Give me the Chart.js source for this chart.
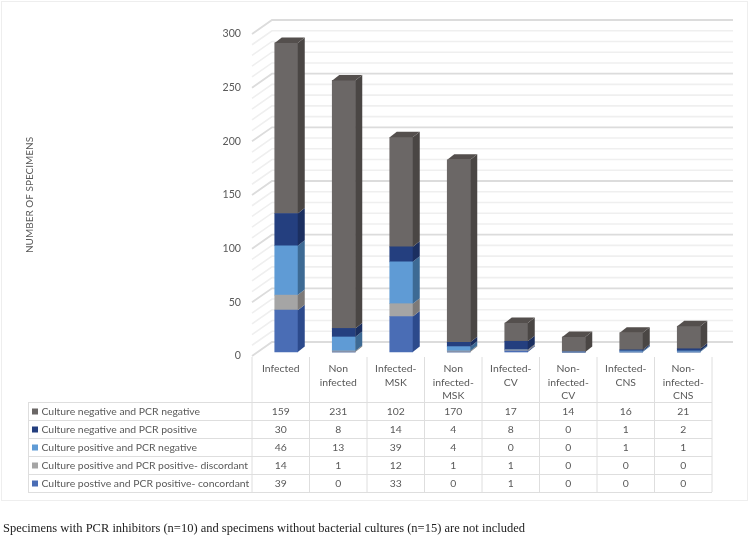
<!DOCTYPE html>
<html>
<head>
<meta charset="utf-8">
<style>
html, body { margin: 0; padding: 0; background: #fff; }
canvas { display: block; }
</style>
<script src="https://cdn.jsdelivr.net/npm/chart.js@4/dist/chart.umd.js"></script>
</head>
<body>
<canvas id="chart" width="755" height="539"></canvas>
<script>
const categories = [
	'Infected', ['Non', 'infected'], ['Infected-', 'MSK'], ['Non', 'infected-', 'MSK'],
	['Infected-', 'CV'], ['Non-', 'infected-', 'CV'], ['Infected-', 'CNS'], ['Non-', 'infected-', 'CNS']
]
const concordant = [39, 0, 33, 0, 1, 0, 0, 0]
const discordant = [14, 1, 12, 1, 1, 0, 0, 0]
const cultPosPcrNeg = [46, 13, 39, 4, 0, 0, 1, 1]
const cultNegPcrPos = [30, 8, 14, 4, 8, 0, 1, 2]
const cultNegPcrNeg = [159, 231, 102, 170, 17, 14, 16, 21]

const seriesNames = [
	'Culture postive and PCR positive- concordant',
	'Culture positive and PCR positive- discordant',
	'Culture positive and PCR negative',
	'Culture negative and PCR positive',
	'Culture negative and PCR negative'
]
const seriesValues = [concordant, discordant, cultPosPcrNeg, cultNegPcrPos, cultNegPcrNeg]
const frontColors = ['#4a6db5', '#a5a5a5', '#5f9bd5', '#243f7f', '#6b6766']
const sideColors = ['#2c4a8c', '#7d7a78', '#3d6a94', '#1b2f60', '#4a4644']
const footnote = 'Specimens with PCR inhibitors (n=10) and specimens without bacterial cultures (n=15) are not included'

const TEXT = '#595959'
const LINE = '#dedede'
const BAR_DX = 5.5, BAR_DY = -4      // bars stand a little inside the floor
const SIDE_DX = 7, SIDE_DY = -5.5
const WALL_DX = 20, WALL_DY = -14
const WALL_RIGHT = 733

// back wall, left wall and floor lines of the fake 3d box
const wallPlugin = {
	id: 'wall',
	beforeDatasetsDraw(chart) {
		const { ctx } = chart
		const y = chart.scales.y
		const x0 = y.right
		ctx.save()
		y.ticks.forEach(t => {
			const py = y.getPixelForValue(t.value)
			const major = t.value % 50 === 0
			ctx.strokeStyle = major ? '#dcdcdc' : '#efefef'
			ctx.lineWidth = major ? 1.8 : 1.6
			ctx.beginPath()
			ctx.moveTo(x0, py)
			ctx.lineTo(x0 + WALL_DX, py + WALL_DY)
			ctx.lineTo(WALL_RIGHT, py + WALL_DY)
			ctx.stroke()
		})
		ctx.restore()
		// shift the bars for the rest of the datasets pass
		ctx.save()
		ctx.translate(BAR_DX, BAR_DY)
	},
	afterDatasetsDraw(chart) {
		const { ctx } = chart
		const n = categories.length
		for (let d = 0; d < seriesValues.length; d++) {
			const bars = chart.getDatasetMeta(d).data
			for (let i = 0; i < n; i++) {
				if (!seriesValues[d][i]) continue
				const b = bars[i]
				const r = b.x + b.width / 2, l = b.x - b.width / 2
				ctx.fillStyle = sideColors[d]
				ctx.beginPath()
				ctx.moveTo(r, b.y)
				ctx.lineTo(r + SIDE_DX, b.y + SIDE_DY)
				ctx.lineTo(r + SIDE_DX, b.base + SIDE_DY)
				ctx.lineTo(r, b.base)
				ctx.closePath()
				ctx.fill()
				// only the last non zero segment shows its top
				if (seriesValues.slice(d + 1).every(s => !s[i])) {
					ctx.fillStyle = '#544f4d'
					ctx.beginPath()
					ctx.moveTo(l, b.y)
					ctx.lineTo(l + SIDE_DX, b.y + SIDE_DY)
					ctx.lineTo(r + SIDE_DX, b.y + SIDE_DY)
					ctx.lineTo(r, b.y)
					ctx.closePath()
					ctx.fill()
				}
			}
		}
		ctx.restore()
	}
}

// data table under the x axis, columns follow the category scale
const tablePlugin = {
	id: 'table',
	afterDraw(chart) {
		const { ctx } = chart
		const x = chart.scales.x
		const colW = x.getPixelForValue(1) - x.getPixelForValue(0)
		const left = 28, tableTop = 402, rowH = 18, colTop = 357
		const rows = seriesValues.length
		const xStart = x.getPixelForValue(0) - colW / 2
		const xEnd = xStart + colW * categories.length
		ctx.save()
		ctx.strokeStyle = LINE
		ctx.lineWidth = 1
		ctx.beginPath()
		for (let r = 0; r <= rows; r++) {
			ctx.moveTo(left, tableTop + r * rowH + 0.5)
			ctx.lineTo(xEnd, tableTop + r * rowH + 0.5)
		}
		ctx.moveTo(left + 0.5, tableTop)
		ctx.lineTo(left + 0.5, tableTop + rows * rowH)
		for (let c = 0; c <= categories.length; c++) {
			ctx.moveTo(xStart + c * colW, colTop)
			ctx.lineTo(xStart + c * colW, tableTop + rows * rowH)
		}
		ctx.stroke()

		ctx.textBaseline = 'middle'
		for (let r = 0; r < rows; r++) {
			const d = rows - 1 - r
			const cy = tableTop + r * rowH + rowH / 2 + 0.5
			ctx.fillStyle = frontColors[d]
			ctx.fillRect(32, cy - 3, 6, 6)
			ctx.fillStyle = TEXT
			ctx.textAlign = 'left'
			ctx.font = '10.4px Lato'
			ctx.fillText(seriesNames[d], 41.5, cy)
			ctx.textAlign = 'center'
			ctx.font = '10.4px Lato'
			seriesValues[d].forEach((v, i) => ctx.fillText(v, x.getPixelForValue(i), cy))
		}

		// outer frame of the pasted chart and the note under it
		ctx.strokeStyle = '#eeeeee'
		ctx.strokeRect(1.5, 1.5, 746, 499)
		ctx.fillStyle = '#222222'
		ctx.textAlign = 'left'
		ctx.font = '12.5px "Liberation Serif"'
		ctx.fillText(footnote, 3, 529)
		ctx.restore()
	}
}

const context = document.getElementById('chart').getContext('2d')

new Chart(context, {
	type: 'bar',
	data: {
		labels: categories,
		datasets: seriesValues.map((values, i) => ({
			label: seriesNames[i],
			data: values,
			backgroundColor: frontColors[i],
			barThickness: 23,
			clip: false
		}))
	},
	options: {
		responsive: false,
		animation: false,
		devicePixelRatio: 1,
		layout: { padding: { top: 34, right: 43, left: 24, bottom: 0 } },
		plugins: { legend: { display: false }, tooltip: { enabled: false } },
		scales: {
			x: {
				stacked: true,
				grid: { display: false, drawTicks: false },
				border: { display: false },
				afterFit: s => { s.height = 183 },
				ticks: {
					autoSkip: false,
					maxRotation: 0,
					padding: 6,
					color: TEXT,
					font: { family: 'Lato', size: 10.4, lineHeight: 1.3 }
				}
			},
			y: {
				stacked: true,
				min: 0,
				max: 300,
				grid: { display: false, drawTicks: false },
				border: { display: false },
				afterFit: s => { s.width = 228 },
				title: {
					display: true,
					text: 'NUMBER OF SPECIMENS',
					color: TEXT,
					font: { family: 'Lato', size: 10 },
					padding: { top: 0, bottom: 0 }
				},
				ticks: {
					stepSize: 10,
					autoSkip: false,
					padding: 11,
					color: TEXT,
					font: { family: 'Lato', size: 10.6 },
					callback: v => (v % 50 === 0 ? v : '')
				}
			}
		}
	},
	plugins: [wallPlugin, tablePlugin]
})
</script>
</body>
</html>
